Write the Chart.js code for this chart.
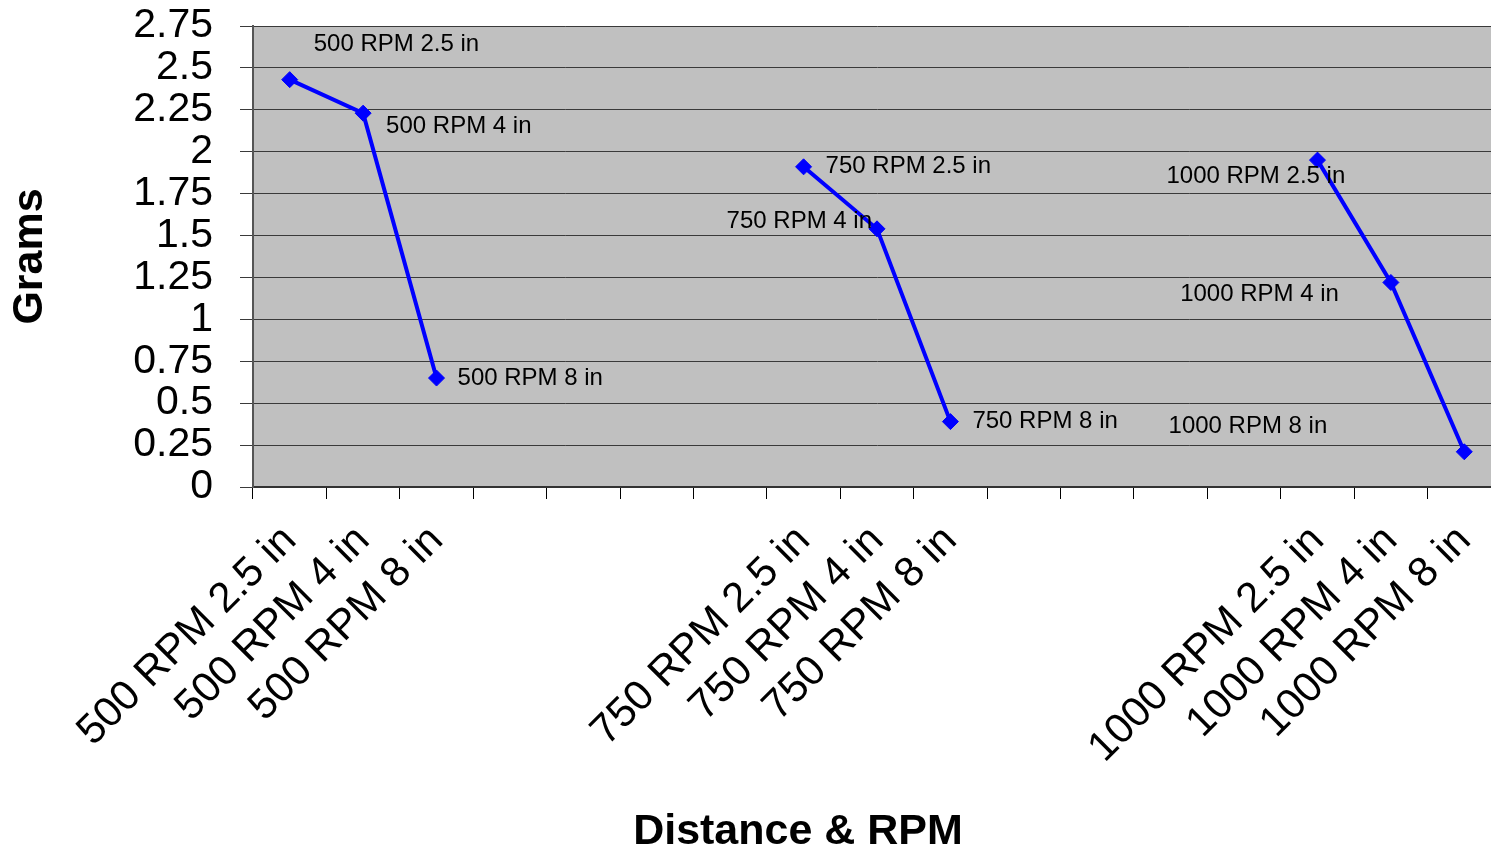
<!DOCTYPE html>
<html>
<head>
<meta charset="utf-8">
<script src="https://cdn.jsdelivr.net/npm/chart.js@4"></script>
<style>
  html, body { margin: 0; padding: 0; background: #fff; overflow: hidden; }
  /* el área del gráfico sigue un poco más allá del borde derecho, como en la captura */
  #wrap { position: relative; width: 1510px; height: 853px; }
</style>
</head>
<body>
<div id="wrap"><canvas id="gramsChart"></canvas></div>
<script>
// Datos
const categories = [
  '500 RPM 2.5 in', '500 RPM 4 in', '500 RPM 8 in', '', '', '', '',
  '750 RPM 2.5 in', '750 RPM 4 in', '750 RPM 8 in', '', '', '', '',
  '1000 RPM 2.5 in', '1000 RPM 4 in', '1000 RPM 8 in'
];
const grams = [
  2.43, 2.23, 0.65, null, null, null, null,
  1.91, 1.54, 0.39, null, null, null, null,
  1.95, 1.22, 0.21
];
const yTicks = { min: 0, max: 2.75, step: 0.25 };

const FONT = "'Liberation Sans', Arial, sans-serif";

// Fondo gris del área de trazado
const plotBg = {
  id: 'plotBg',
  beforeDraw(chart) {
    const { ctx, chartArea: a } = chart;
    ctx.save();
    ctx.fillStyle = '#c0c0c0';
    ctx.fillRect(a.left, a.top, a.right - a.left, a.bottom - a.top);
    ctx.restore();
  }
};

// Etiquetas de datos (movidas a mano en el original): [dx, dy, alineación]
const labelPlacement = {
  0: [24, -35, 'left'], 1: [23, 13, 'left'], 2: [21, 0, 'left'],
  7: [22, 0, 'left'], 8: [-5, -7, 'right'], 9: [22, 0, 'left'],
  14: [-151, 16, 'left'], 15: [-52, 12, 'right'], 16: [-137, -25, 'right']
};
const pointLabels = {
  id: 'pointLabels',
  afterDatasetsDraw(chart) {
    const { ctx } = chart;
    const meta = chart.getDatasetMeta(0);
    ctx.save();
    ctx.font = '24px ' + FONT;
    ctx.fillStyle = '#000';
    ctx.textBaseline = 'middle';
    meta.data.forEach((pt, i) => {
      if (grams[i] == null) return;
      const [dx, dy, align] = labelPlacement[i] || [20, 0, 'left'];
      ctx.textAlign = align;
      ctx.fillText(categories[i], pt.x + dx, pt.y + dy);
    });
    ctx.restore();
  }
};

// Título del eje X (no centrado en el área, como en el original)
const xTitle = {
  id: 'xTitle',
  afterDraw(chart) {
    const { ctx } = chart;
    ctx.save();
    ctx.font = 'bold 43px ' + FONT;
    ctx.fillStyle = '#000';
    ctx.textAlign = 'center';
    ctx.textBaseline = 'middle';
    ctx.fillText('Distance & RPM', 798, 832);
    ctx.restore();
  }
};

const ctx = document.getElementById('gramsChart').getContext('2d');
new Chart(ctx, {
  type: 'line',
  data: {
    labels: categories,
    datasets: [{
      label: 'Grams',
      data: grams,
      borderColor: '#0000ff',
      backgroundColor: '#0000ff',
      borderWidth: 4,
      tension: 0,
      spanGaps: false,
      pointStyle: 'rectRot',
      pointRadius: 8,
      pointBorderWidth: 1,
      pointBackgroundColor: '#0000ff',
      pointBorderColor: '#0000ff'
    }]
  },
  options: {
    responsive: true,
    maintainAspectRatio: false,
    animation: false,
    layout: { padding: { top: 26, right: 9, left: 0, bottom: 0 } },
    plugins: {
      legend: { display: false },
      tooltip: { enabled: false }
    },
    scales: {
      x: {
        offset: true,
        grid: { offset: true, drawOnChartArea: false, drawTicks: true, tickLength: 12, color: '#000', lineWidth: 1 },
        border: { display: true, color: '#333', width: 2 },
        ticks: { autoSkip: false, maxRotation: 45, minRotation: 45, font: { family: FONT, size: 42 }, color: '#000', padding: 17 },
        afterFit: s => { s.height = 366; s.paddingLeft = 0; s.paddingRight = 0; }
      },
      y: {
        min: yTicks.min,
        max: yTicks.max,
        ticks: {
          stepSize: yTicks.step,
          autoSkip: false,
          font: { family: FONT, size: 41 },
          color: '#000',
          padding: 27,
          callback: v => String(+v.toFixed(2))
        },
        grid: { color: '#3a3a3a', lineWidth: 1, drawTicks: true, tickLength: 13 },
        border: { display: true, color: '#555', width: 2 },
        title: { display: true, text: 'Grams', font: { family: FONT, size: 43, weight: 'bold' }, color: '#000', padding: 4 },
        afterFit: s => { s.width = 253; s.paddingTop = 0; s.paddingBottom = 0; }
      }
    }
  },
  plugins: [plotBg, pointLabels, xTitle]
});
</script>
</body>
</html>
